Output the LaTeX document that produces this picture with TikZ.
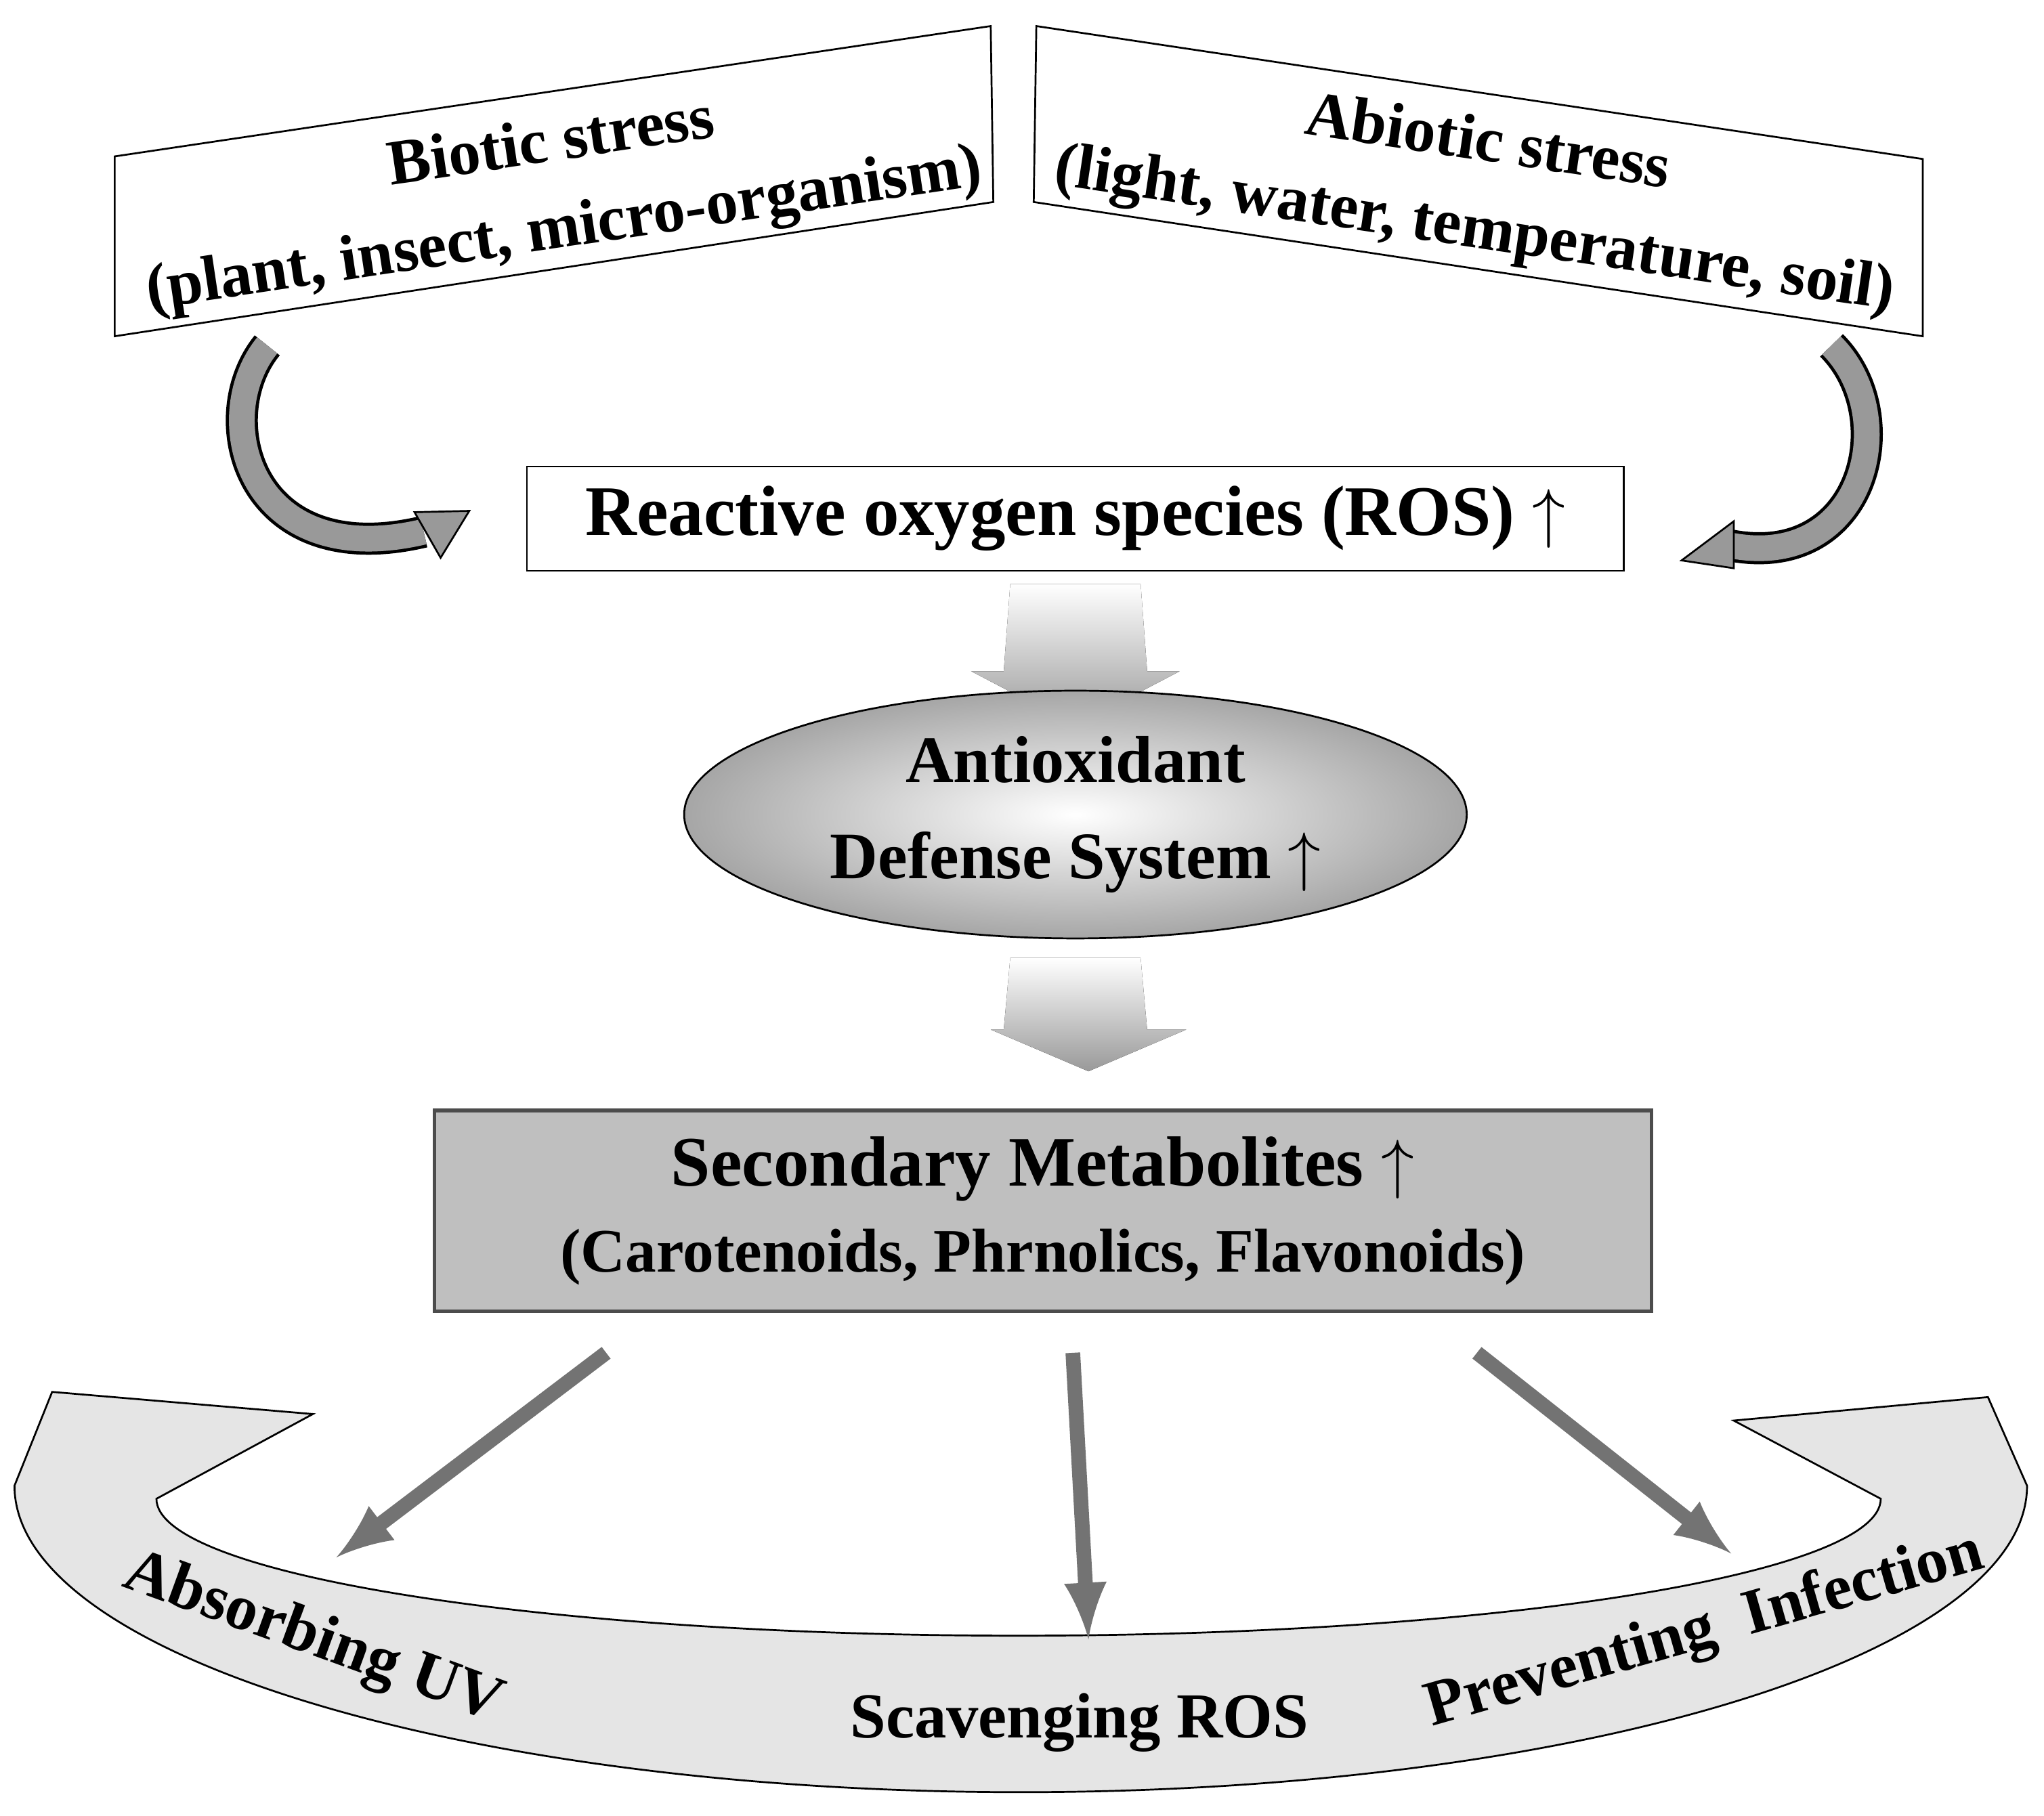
\documentclass[tikz,border=0pt]{standalone}
\usepackage{fontspec}
\setmainfont{Liberation Serif}
\usetikzlibrary{shapes.geometric,positioning}
\begin{document}
\begin{tikzpicture}[x=0.01cm,y=-0.01cm]
    \tikzstyle{stressbox}=[draw=black,fill=white,thin]
    \tikzstyle{stresstext}=[font=\bfseries\fontsize{14}{19}\selectfont,align=center]
    \tikzstyle{main}=[font=\bfseries\fontsize{15.5}{19}\selectfont,align=center]
    \tikzstyle{fuzzy}=[top color=white,bottom color=black!40,draw=none]
    \tikzstyle{effect}=[->,>=latex,line width=3.2pt,draw=black!55]
    \tikzstyle{label}=[font=\bfseries\fontsize{14}{17}\selectfont]
    \useasboundingbox (0,0) rectangle (1568,1393);

    % Stress boxes
    \draw[stressbox] (88,120) -- (760,20) -- (762,155) -- (88,258) -- cycle;
    \node[stresstext,rotate=8.5] (biotic) at (428,145) {Biotic stress\\(plant, insect, micro-organism)};
    \draw[stressbox] (795,20) -- (1475,122) -- (1475,258) -- (793,155) -- cycle;
    \node[stresstext,rotate=-8.5] (abiotic) at (1136,145) {Abiotic stress\\(light, water, temperature, soil)};

    % ROS box
    \node[main,draw=black,minimum width=8.41cm,minimum height=0.8cm,inner sep=0pt] (ros) at (825,398)
        {Reactive oxygen species (ROS) $\uparrow$};

    % Curved stress arrows
    \coordinate (bl) at (205,265);
    \coordinate (br) at (1405,265);
    \draw[line width=7pt,black] (bl) .. controls (160,320) and (190,440) .. (325,408);
    \draw[line width=5.6pt,black!40] (bl) .. controls (160,320) and (190,440) .. (325,408);
    \draw[fill=black!40] (318,393) -- (360,392) -- (338,428) -- cycle;
    \draw[line width=7pt,black] (br) .. controls (1460,320) and (1430,440) .. (1325,418);
    \draw[line width=5.6pt,black!40] (br) .. controls (1460,320) and (1430,440) .. (1325,418);
    \draw[fill=black!40] (1330,400) -- (1290,430) -- (1330,436) -- cycle;

    % Antioxidant system
    \fill[fuzzy] (775,448) -- (875,448) -- (880,515) -- (905,515) -- (825,557) -- (745,515) -- (770,515) -- cycle;
    \node[ellipse,draw=black,inner color=white,outer color=black!35,minimum width=6cm,minimum height=1.9cm,
          inner sep=0pt,font=\bfseries\fontsize{14.5}{21}\selectfont,align=center] (ads) at (825,625)
        {Antioxidant\\Defense System $\uparrow$};
    \fill[fuzzy] (775,735) -- (875,735) -- (880,790) -- (910,790) -- (835,822) -- (760,790) -- (770,790) -- cycle;

    % Secondary metabolites
    \node[draw=black!70,thick,fill=black!25,minimum width=9.33cm,minimum height=1.54cm,align=center] (sec) at (800,929)
        {{\bfseries\fontsize{15.5}{19}\selectfont Secondary Metabolites $\uparrow$}\\[5pt]
         {\bfseries\fontsize{13.5}{16}\selectfont (Carotenoids, Phrnolics, Flavonoids)}};

    % Bottom band
    \draw[fill=black!10] (40,1068) -- (240,1085) -- (120,1150)
        arc[start angle=180,end angle=360,x radius=6.61cm,y radius=1.05cm]
        -- (1330,1090) -- (1525,1072) -- (1555,1140)
        arc[start angle=0,end angle=-180,x radius=7.715cm,y radius=2.35cm] -- cycle;

    % Effects
    \node[label,rotate=-20] (uv) at (240,1258) {Absorbing UV};
    \node[label] (scav) at (828,1322) {Scavenging ROS};
    \node[label,rotate=16] (inf) at (1308,1252) {Preventing \ Infection};
    \coordinate (s1) at (465,1038);
    \coordinate (s2) at (823,1038);
    \coordinate (s3) at (1133,1038);
    \coordinate (e1) at (258,1195);
    \coordinate (e2) at (835,1258);
    \coordinate (e3) at (1328,1192);
    \draw[effect] (s1) -- (e1);
    \draw[effect] (s2) -- (e2);
    \draw[effect] (s3) -- (e3);
\end{tikzpicture}
\end{document}
